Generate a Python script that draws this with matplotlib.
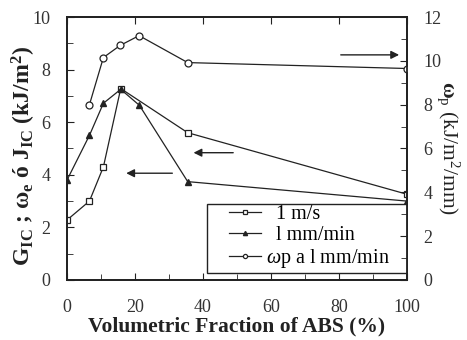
import numpy as np
import matplotlib.pyplot as plt
from matplotlib.ticker import MultipleLocator
from matplotlib.patches import Rectangle

plt.rcParams['font.family'] = ['Liberation Serif', 'DejaVu Serif']
plt.rcParams['mathtext.fontset'] = 'custom'
plt.rcParams['mathtext.rm'] = 'Liberation Serif'
plt.rcParams['mathtext.it'] = 'Liberation Serif:italic'
plt.rcParams['mathtext.bf'] = 'Liberation Serif:bold'

# data
x_sq = [0, 6.6, 10.7, 15.8, 35.5, 100]
y_sq = [2.28, 3.0, 4.3, 7.28, 5.6, 3.26]          # 1 m/s (left axis)
x_tri = [0, 6.6, 10.7, 15.8, 21.3, 35.5, 100]
y_tri = [3.8, 5.5, 6.72, 7.25, 6.64, 3.74, 3.0]   # 1 mm/min (left axis)
x_wp = [6.6, 10.7, 15.6, 21.2, 35.5, 100]
y_wp = [8.0, 10.15, 10.7, 11.15, 9.92, 9.65]      # wp a 1 mm/min (right axis)

fig = plt.figure(figsize=(4.67, 3.4), dpi=100)
ax = fig.add_axes([0.1435, 0.1765, 0.728, 0.7735])
ax2 = ax.twinx()

c = '#222222'
l1, = ax.plot(x_sq, y_sq, '-s', color=c, lw=0.9, ms=5, mfc='white', mec=c, mew=0.9, label='  1 m/s')
l2, = ax.plot(x_tri, y_tri, '-^', color=c, lw=0.9, ms=5, mfc=c, mec=c, label='  l mm/min')
l3, = ax2.plot(x_wp, y_wp, '-o', color=c, lw=0.9, ms=5, mfc='white', mec=c, mew=0.9,
               label=r'$\omega$p a l mm/min')

ax.set_xlim(0, 100)
ax.set_ylim(0, 10)
ax2.set_ylim(0, 12)

ax.xaxis.set_major_locator(MultipleLocator(20))
ax.xaxis.set_minor_locator(MultipleLocator(10))
ax.yaxis.set_major_locator(MultipleLocator(2))
ax.yaxis.set_minor_locator(MultipleLocator(1))
ax2.yaxis.set_major_locator(MultipleLocator(2))
ax2.yaxis.set_minor_locator(MultipleLocator(1))

ax.tick_params(which='both', direction='in', top=True, labelsize=13, color=c, labelcolor='#333333')
ax.tick_params(which='major', length=5)
ax.tick_params(which='minor', length=4)
ax.tick_params(axis='x', which='minor', top=False)
ax.tick_params(axis='x', pad=14)
ax.tick_params(axis='y', pad=12)
ax2.tick_params(which='both', direction='in', labelsize=13, color=c, labelcolor='#333333', pad=12)
ax2.tick_params(which='major', length=5)
ax2.tick_params(which='minor', length=4)

for a in (ax, ax2):
    for s in a.spines.values():
        s.set_linewidth(1.3)
        s.set_color(c)

ax.set_xlabel('Volumetric Fraction of ABS (%)', fontsize=15.5, fontweight='bold', labelpad=0, color=c)
ax.set_ylabel(r'G$_{\mathbf{IC}}$ ; $\mathbf{\omega}_\mathbf{e}$ ó J$_{\mathbf{IC}}$ (kJ/m$^\mathbf{2}$)',
              fontsize=17, fontweight='bold', color=c)
ax.yaxis.set_label_coords(-0.085, 0.47)
ax2.set_ylabel(r'$\mathbf{\omega}_\mathrm{p}$ (kJ/m$^2$/mm)', fontsize=15.5, rotation=270,
               color=c)
ax2.yaxis.set_label_coords(1.16, 0.5)

# arrows pointing to the axes
arr = dict(arrowstyle='-|>', color=c, lw=1.0, mutation_scale=12)
ax.annotate('', xy=(98.5, 8.56), xytext=(79.7, 8.56), arrowprops=arr)
ax.annotate('', xy=(36.4, 4.84), xytext=(49.7, 4.84), arrowprops=arr)
ax.annotate('', xy=(16.6, 4.06), xytext=(31.8, 4.06), arrowprops=arr)

# legend box drawn separately, legend entries without frame
ax.add_patch(Rectangle((0.412, 0.027), 0.588, 0.262, transform=ax.transAxes,
                       fill=True, facecolor='white', edgecolor=c, lw=1.0, zorder=4))
leg = ax.legend(handles=[l1, l2, l3], loc='lower left', bbox_to_anchor=(0.47, 0.03),
                fontsize=14.5, frameon=False, handlelength=1.6, handletextpad=0.25,
                labelspacing=0.1, borderpad=0.1, borderaxespad=0, markerscale=0.6)
leg.set_zorder(5)

fig.savefig('out.png', dpi=100)
